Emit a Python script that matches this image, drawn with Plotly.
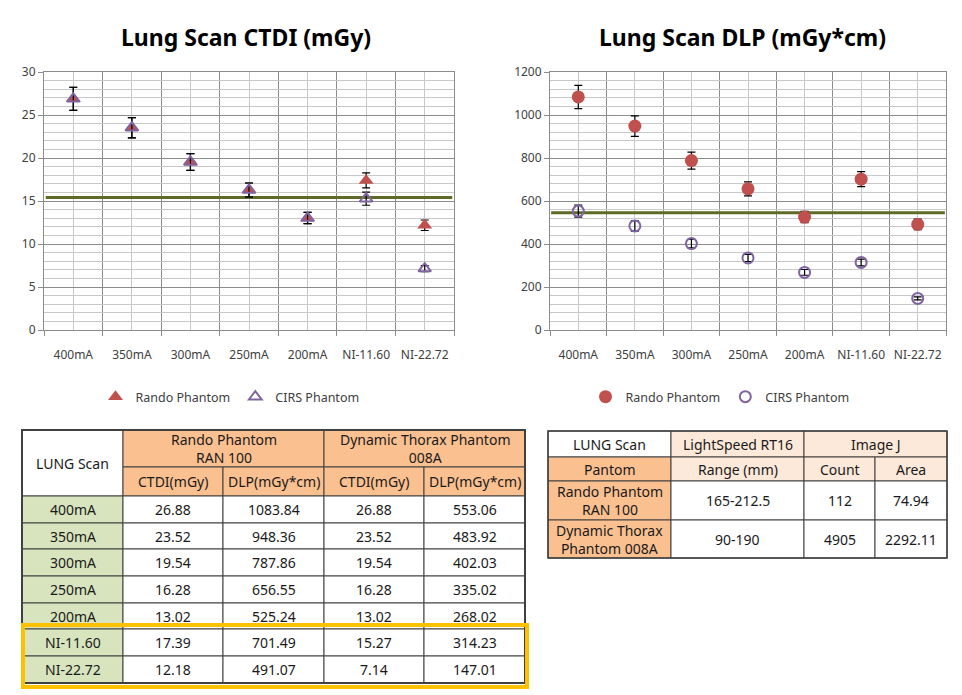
import plotly.graph_objects as go

# ---------------- data ----------------
categories = ["400mA", "350mA", "300mA", "250mA", "200mA", "NI-11.60", "NI-22.72"]
rando_ctdi = [26.88, 23.52, 19.54, 16.28, 13.02, 17.39, 12.18]
cirs_ctdi = [26.88, 23.52, 19.54, 16.28, 13.02, 15.27, 7.14]
rando_dlp = [1083.84, 948.36, 787.86, 656.55, 525.24, 701.49, 491.07]
cirs_dlp = [553.06, 483.92, 402.03, 335.02, 268.02, 314.23, 147.01]
error_pct = 5
ctdi_ref = 15.4
dlp_ref = 545

ctdi_ticks = [0, 5, 10, 15, 20, 25, 30]
dlp_ticks = [0, 200, 400, 600, 800, 1000, 1200]

phantoms = ["Rando Phantom<br>RAN 100", "Dynamic Thorax<br>Phantom 008A"]
range_mm = ["165-212.5", "90-190"]
count_vals = ["112", "4905"]
area_vals = ["74.94", "2292.11"]

# ---------------- styling ----------------
W, H = 962, 695
FONT = "Noto Sans, DejaVu Sans, sans-serif"
RED = "#C0504D"
PURPLE = "#8064A2"
MAJOR = "#8C8C8C"
MINOR = "#C8C8C8"
TXT = "#404040"
ORANGE = "#FAC090"
PEACH = "#FDE9D9"
GREEN = "#D7E4BD"


def px(x):
    return x / W


def py(y):
    return 1 - y / H


xs = list(range(len(categories)))
bounds = [i - 0.5 for i in range(len(categories) + 1)]

fig = go.Figure()

err = dict(type="percent", value=error_pct, color="black", thickness=1.2, width=4)

# reference lines (drawn first, under markers)
fig.add_trace(go.Scatter(x=[bounds[0] + 0.03, bounds[-1] - 0.03], y=[ctdi_ref, ctdi_ref], mode="lines",
                         line=dict(color="#5E6B27", width=3), showlegend=False, hoverinfo="skip",
                         xaxis="x", yaxis="y"))
fig.add_trace(go.Scatter(x=[bounds[0] + 0.02, bounds[-1] - 0.02], y=[dlp_ref, dlp_ref], mode="lines",
                         line=dict(color="#5E6B27", width=3), showlegend=False, hoverinfo="skip",
                         xaxis="x2", yaxis="y2"))

fig.add_trace(go.Scatter(x=xs, y=rando_ctdi, mode="markers", name="Rando Phantom",
                         marker=dict(symbol="triangle-up", size=13, color=RED),
                         error_y=err, xaxis="x", yaxis="y", legend="legend"))
fig.add_trace(go.Scatter(x=xs, y=cirs_ctdi, mode="markers", name="CIRS Phantom",
                         marker=dict(symbol="triangle-up-open", size=11, color=PURPLE,
                                     line=dict(width=2, color=PURPLE)),
                         error_y=err, xaxis="x", yaxis="y", legend="legend"))
fig.add_trace(go.Scatter(x=xs, y=rando_dlp, mode="markers", name="Rando Phantom",
                         marker=dict(symbol="circle", size=13, color=RED),
                         error_y=err, xaxis="x2", yaxis="y2", legend="legend2"))
fig.add_trace(go.Scatter(x=xs, y=cirs_dlp, mode="markers", name="CIRS Phantom",
                         marker=dict(symbol="circle-open", size=11, color=PURPLE,
                                     line=dict(width=2, color=PURPLE)),
                         error_y=err, xaxis="x2", yaxis="y2", legend="legend2"))


def xaxis_cfg(x0, x1, anchor):
    return dict(domain=[px(x0), px(x1)], anchor=anchor, range=[bounds[0], bounds[-1]],
                tickmode="array", tickvals=xs, ticktext=categories,
                showgrid=True, gridcolor=MINOR, gridwidth=1, ticks="",
                showline=True, linecolor=MAJOR, linewidth=1, mirror=True, zeroline=False,
                tickfont=dict(size=12, color=TXT, family=FONT), ticklabelstandoff=14,
                minor=dict(tickmode="array", tickvals=bounds, showgrid=True, gridcolor=MAJOR,
                           ticks="outside", ticklen=5, tickcolor=MAJOR),
                automargin=False, fixedrange=True)


def yaxis_cfg(ticks, minor_step, anchor):
    return dict(domain=[py(330), py(72)], anchor=anchor, range=[ticks[0], ticks[-1]],
                tickmode="array", tickvals=ticks, showgrid=True, gridcolor=MAJOR,
                ticks="outside", ticklen=5, tickcolor=MAJOR,
                showline=True, linecolor=MAJOR, linewidth=1, mirror=True, zeroline=False,
                tickfont=dict(size=12, color=TXT, family=FONT),
                minor=dict(dtick=minor_step, showgrid=True, gridcolor=MINOR, ticks=""),
                automargin=False, fixedrange=True)


shapes = []
annotations = []

# titles
annotations.append(dict(text="<b>Lung Scan CTDI (mGy)</b>", x=px(246), y=py(37), xref="paper", yref="paper",
                        xanchor="center", yanchor="middle",
                        showarrow=False, font=dict(size=23, color="black", family=FONT)))
annotations.append(dict(text="<b>Lung Scan DLP (mGy*cm)</b>", x=px(742), y=py(37), xref="paper", yref="paper",
                        xanchor="center", yanchor="middle",
                        showarrow=False, font=dict(size=23, color="black", family=FONT)))


def cell(x0, x1, y0, y1, text, fill, size=14):
    shapes.append(dict(type="rect", xref="paper", yref="paper", x0=px(x0), x1=px(x1),
                       y0=py(y1), y1=py(y0), fillcolor=fill, line=dict(color="#404040", width=1),
                       layer="above"))
    annotations.append(dict(text=text, x=px((x0 + x1) / 2), y=py((y0 + y1) / 2),
                            xref="paper", yref="paper", showarrow=False,
                            xanchor="center", yanchor="middle",
                            font=dict(size=size, color="#1A1A1A", family=FONT)))


# ---------- left table ----------
LC = [22, 123, 223, 324, 424, 525]
LR = [430, 467, 496, 523, 549, 576, 603, 629, 656, 683]
cell(LC[0], LC[1], LR[0], LR[2], "LUNG Scan", "white")
cell(LC[1], LC[3], LR[0], LR[1], "Rando Phantom<br>RAN 100", ORANGE)
cell(LC[3], LC[5], LR[0], LR[1], "Dynamic Thorax Phantom<br>008A", ORANGE)
for j, lab in enumerate(["CTDI(mGy)", "DLP(mGy*cm)", "CTDI(mGy)", "DLP(mGy*cm)"]):
    cell(LC[j + 1], LC[j + 2], LR[1], LR[2], lab, ORANGE)
for i, cat in enumerate(categories):
    y0, y1 = LR[2 + i], LR[3 + i]
    cell(LC[0], LC[1], y0, y1, cat, GREEN)
    for j, v in enumerate([rando_ctdi[i], rando_dlp[i], cirs_ctdi[i], cirs_dlp[i]]):
        cell(LC[j + 1], LC[j + 2], y0, y1, f"{v:.2f}", "white")
shapes.append(dict(type="rect", xref="paper", yref="paper", x0=px(LC[0]), x1=px(LC[-1]),
                   y0=py(LR[-1]), y1=py(LR[0]), line=dict(color="#404040", width=2), layer="above"))
# highlight box
shapes.append(dict(type="rect", xref="paper", yref="paper", x0=px(23), x1=px(527),
                   y0=py(687), y1=py(625), line=dict(color="#FFC000", width=4), layer="above"))

# ---------- right table ----------
RC = [548, 671, 804, 875, 947]
RR = [431, 457, 481, 520, 558]
cell(RC[0], RC[1], RR[0], RR[1], "LUNG Scan", "white")
cell(RC[1], RC[2], RR[0], RR[1], "LightSpeed RT16", PEACH)
cell(RC[2], RC[4], RR[0], RR[1], "Image J", PEACH)
cell(RC[0], RC[1], RR[1], RR[2], "Pantom", ORANGE)
for j, lab in enumerate(["Range (mm)", "Count", "Area"]):
    cell(RC[j + 1], RC[j + 2], RR[1], RR[2], lab, PEACH)
for i, ph in enumerate(phantoms):
    y0, y1 = RR[2 + i], RR[3 + i]
    cell(RC[0], RC[1], y0, y1, ph, ORANGE)
    for j, v in enumerate([range_mm[i], count_vals[i], area_vals[i]]):
        cell(RC[j + 1], RC[j + 2], y0, y1, v, "white")
shapes.append(dict(type="rect", xref="paper", yref="paper", x0=px(RC[0]), x1=px(RC[-1]),
                   y0=py(RR[-1]), y1=py(RR[0]), line=dict(color="#404040", width=1.5), layer="above"))

leg_common = dict(orientation="h", xanchor="center", yanchor="middle", bgcolor="rgba(0,0,0,0)",
                  font=dict(size=12.5, color=TXT, family=FONT), itemclick=False, itemdoubleclick=False)

fig.update_layout(
    width=W, height=H, autosize=False,
    margin=dict(l=0, r=0, t=0, b=0, pad=0, autoexpand=False),
    paper_bgcolor="white", plot_bgcolor="white",
    font=dict(family=FONT, color=TXT),
    xaxis=xaxis_cfg(44, 454, "y"),
    yaxis=yaxis_cfg(ctdi_ticks, 1, "x"),
    xaxis2=xaxis_cfg(550, 946, "y2"),
    yaxis2=yaxis_cfg(dlp_ticks, 40, "x2"),
    legend=dict(x=px(230), y=py(397), **leg_common),
    legend2=dict(x=px(720), y=py(397), **leg_common),
    shapes=shapes,
    annotations=annotations,
    showlegend=True,
)

fig.write_html("out.html", config={"displayModeBar": False},
               post_script="document.body.style.margin='0px';")
